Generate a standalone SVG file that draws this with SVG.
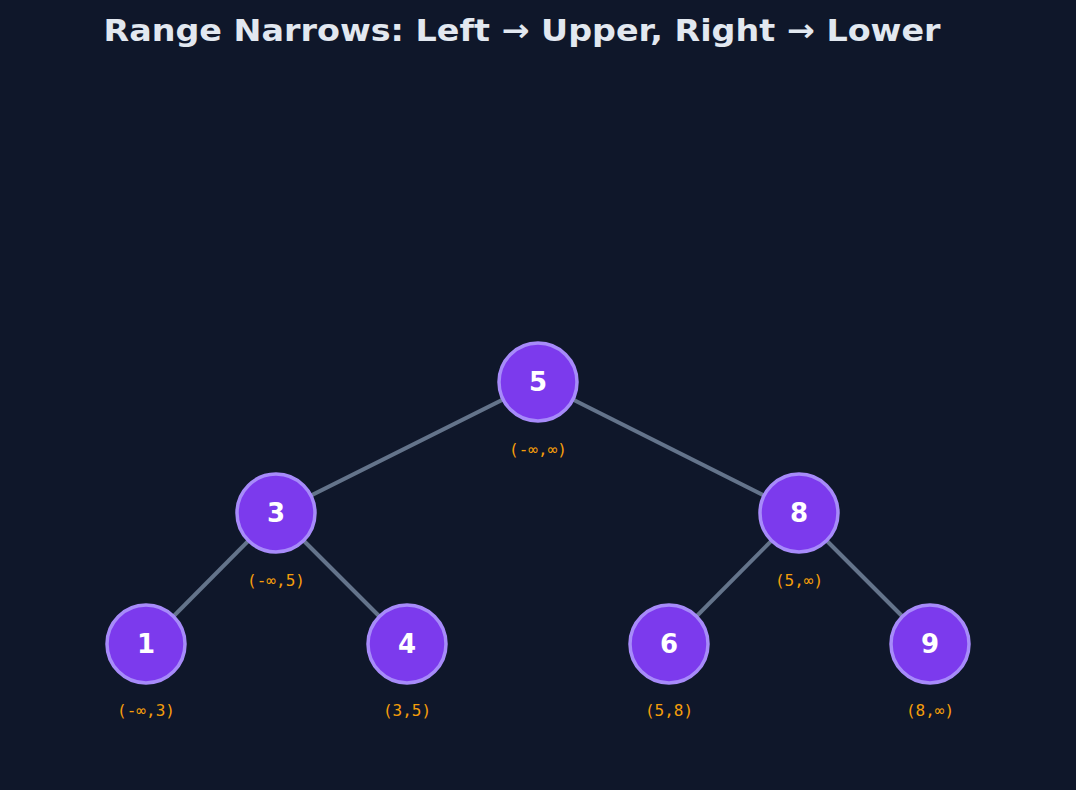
<svg xmlns="http://www.w3.org/2000/svg" width="1076" height="790" viewBox="0 0 1076 790">
<style>
.n{fill:#7c3aed;stroke:#a78bfa;stroke-width:3.5}
.v{font-family:"DejaVu Sans",sans-serif;font-weight:bold;font-size:26px;fill:#fff;text-anchor:middle}
.r{font-family:"DejaVu Sans Mono",monospace;font-size:16px;fill:#f59e0b;text-anchor:middle}
.e{stroke:#64748b;stroke-width:4}
</style>
<rect width="1076" height="790" fill="#0f172a"/>
<text x="522" y="41" font-family="'DejaVu Sans',sans-serif" font-weight="bold" font-size="31" fill="#e2e8f0" text-anchor="middle" textLength="837" lengthAdjust="spacingAndGlyphs">Range Narrows: Left → Upper, Right → Lower</text>
<g id="edges">
<line class="e" x1="538" y1="382" x2="276" y2="513"/>
<line class="e" x1="538" y1="382" x2="799" y2="513"/>
<line class="e" x1="276" y1="513" x2="146" y2="644"/>
<line class="e" x1="276" y1="513" x2="407" y2="644"/>
<line class="e" x1="799" y1="513" x2="669" y2="644"/>
<line class="e" x1="799" y1="513" x2="930" y2="644"/>
</g>
<g id="n5"><circle class="n" cx="538" cy="382" r="39"/><text class="v" x="538" y="391">5</text><text class="r" x="538" y="455">(-∞,∞)</text></g>
<g id="n3"><circle class="n" cx="276" cy="513" r="39"/><text class="v" x="276" y="522">3</text><text class="r" x="276" y="586">(-∞,5)</text></g>
<g id="n8"><circle class="n" cx="799" cy="513" r="39"/><text class="v" x="799" y="522">8</text><text class="r" x="799" y="586">(5,∞)</text></g>
<g id="n1"><circle class="n" cx="146" cy="644" r="39"/><text class="v" x="146" y="653">1</text><text class="r" x="146" y="716">(-∞,3)</text></g>
<g id="n4"><circle class="n" cx="407" cy="644" r="39"/><text class="v" x="407" y="653">4</text><text class="r" x="407" y="716">(3,5)</text></g>
<g id="n6"><circle class="n" cx="669" cy="644" r="39"/><text class="v" x="669" y="653">6</text><text class="r" x="669" y="716">(5,8)</text></g>
<g id="n9"><circle class="n" cx="930" cy="644" r="39"/><text class="v" x="930" y="653">9</text><text class="r" x="930" y="716">(8,∞)</text></g>
</svg>
